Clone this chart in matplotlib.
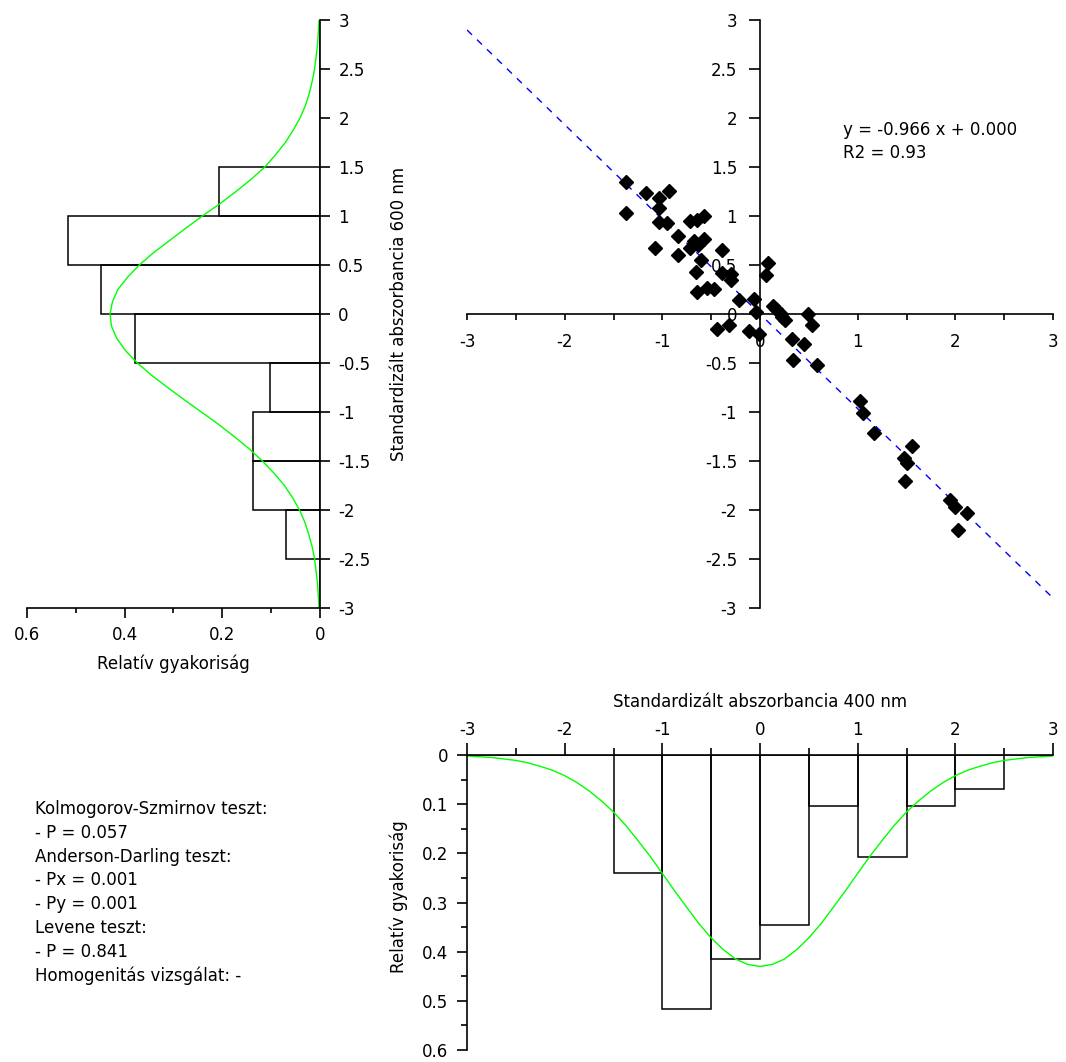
import numpy as np
import matplotlib.pyplot as plt
from matplotlib.ticker import MultipleLocator, FuncFormatter

plt.rcParams['font.family'] = ['DejaVu Sans']
plt.rcParams['font.size'] = 12
plt.rcParams['axes.unicode_minus'] = False

# histogram bins (standardised absorbance) and relative frequencies
bin_edges = [-3, -2.5, -2, -1.5, -1, -0.5, 0, 0.5, 1, 1.5, 2, 2.5, 3]
freq_400 = [0, 0, 0, 0.241, 0.517, 0.414, 0.345, 0.103, 0.207, 0.103, 0.069, 0]
freq_600 = [0, 0.069, 0.138, 0.138, 0.103, 0.379, 0.448, 0.517, 0.207, 0, 0, 0]

# fitted density curves
curve_pos = [-3, -2.875, -2.75, -2.625, -2.5, -2.375, -2.25, -2.125, -2, -1.875, -1.75, -1.625,
             -1.5, -1.375, -1.25, -1.125, -1, -0.875, -0.75, -0.625, -0.5, -0.375, -0.25, -0.125,
             0, 0.125, 0.25, 0.375, 0.5, 0.625, 0.75, 0.875, 1, 1.125, 1.25, 1.375,
             1.5, 1.625, 1.75, 1.875, 2, 2.125, 2.25, 2.375, 2.5, 2.625, 2.75, 2.875, 3]
curve_400 = [0.002, 0.0035, 0.005, 0.008, 0.011, 0.016, 0.023, 0.031, 0.042, 0.056, 0.073, 0.093,
             0.116, 0.143, 0.174, 0.206, 0.241, 0.276, 0.310, 0.343, 0.372, 0.396, 0.415, 0.426,
             0.430, 0.426, 0.415, 0.396, 0.372, 0.343, 0.310, 0.276, 0.241, 0.206, 0.174, 0.143,
             0.116, 0.093, 0.073, 0.056, 0.042, 0.031, 0.023, 0.016, 0.011, 0.008, 0.005, 0.0035, 0.002]
curve_600 = [0.002, 0.0035, 0.005, 0.008, 0.011, 0.016, 0.023, 0.031, 0.042, 0.056, 0.073, 0.094,
             0.118, 0.145, 0.176, 0.208, 0.243, 0.278, 0.312, 0.345, 0.374, 0.398, 0.416, 0.427,
             0.430, 0.425, 0.414, 0.394, 0.370, 0.341, 0.308, 0.275, 0.241, 0.205, 0.172, 0.141,
             0.113, 0.091, 0.071, 0.055, 0.041, 0.030, 0.022, 0.016, 0.011, 0.008, 0.005, 0.0035, 0.002]

# scatter: standardised absorbance 400 nm vs 600 nm
x400 = [-1.37, -1.37, -1.17, -1.03, -0.93, -1.03, -1.03, -0.95, -1.07, -0.84,
        -0.72, -0.64, -0.57, -0.84, -0.57, -0.68, -0.72, -0.63, -0.60, -0.66,
        -0.39, -0.39, -0.30, -0.30, -0.64, -0.54, -0.47, -0.21, -0.06, -0.04,
        -0.44, -0.32, -0.11, -0.01, 0.08, 0.06, 0.16, 0.21, 0.26, 0.23,
        0.49, 0.53, 0.33, 0.45, 0.34, 0.58, 0.13,
        1.02, 1.05, 1.17, 1.56, 1.47, 1.50, 1.48, 1.95, 2.00, 2.12, 2.03]
y600 = [1.35, 1.03, 1.23, 1.18, 1.26, 1.08, 0.94, 0.93, 0.67, 0.80,
        0.95, 0.96, 1.00, 0.60, 0.77, 0.74, 0.67, 0.70, 0.55, 0.43,
        0.65, 0.42, 0.35, 0.41, 0.22, 0.27, 0.26, 0.14, 0.15, 0.02,
        -0.15, -0.11, -0.17, -0.20, 0.52, 0.40, 0.05, 0.00, -0.06, -0.03,
        0.00, -0.11, -0.25, -0.31, -0.47, -0.52, 0.08,
        -0.89, -1.01, -1.21, -1.35, -1.47, -1.52, -1.70, -1.90, -1.97, -2.03, -2.20]
slope, intercept, r2 = -0.966, 0.000, 0.93

stats_lines = ['Kolmogorov-Szmirnov teszt:', '- P = 0.057', 'Anderson-Darling teszt:',
               '- Px = 0.001', '- Py = 0.001', 'Levene teszt:', '- P = 0.841',
               'Homogenitás vizsgálat: -']

fmt = FuncFormatter(lambda v, p: '%g' % round(v, 3))
W, H = 1066, 1062
fig = plt.figure(figsize=(W / 100, H / 100), dpi=100)


def box(l, t, r, b):
    return [l / W, 1 - b / H, (r - l) / W, (b - t) / H]


# ---- left histogram (600 nm) ----
axl = fig.add_axes(box(27, 20, 320, 608))
axl.barh(bin_edges[:-1], freq_600, height=0.5, align='edge', fill=False,
         edgecolor='black', linewidth=1.1)
axl.plot(curve_600, curve_pos, color='#00ff00', lw=1)
axl.set_xlim(0.6, 0)
axl.set_ylim(-3, 3)
axl.spines[['top', 'left']].set_visible(False)
axl.yaxis.tick_right()
axl.yaxis.set_major_locator(MultipleLocator(0.5))
axl.xaxis.set_major_locator(MultipleLocator(0.2))
axl.xaxis.set_minor_locator(MultipleLocator(0.1))
axl.xaxis.set_major_formatter(fmt)
axl.yaxis.set_major_formatter(fmt)
axl.tick_params(axis='y', which='major', direction='out', length=7.2, width=1.2, pad=6)
axl.tick_params(axis='x', which='major', direction='out', length=7.2, width=1.2, pad=6)
axl.tick_params(axis='x', which='minor', direction='out', length=3.6, width=1.2)
axl.yaxis.set_label_position('right')
axl.set_ylabel('Standardizált abszorbancia 600 nm', rotation=90, va='center', ha='center')
axl.yaxis.set_label_coords((399 - 27) / 293, 0.5)
axl.set_xlabel('Relatív gyakoriság', va='center')
axl.xaxis.set_label_coords(0.5, (608 - 664) / 588)

# ---- scatter ----
axs = fig.add_axes(box(467, 20, 1053, 608))
line_x = np.array([-3, 3])
axs.plot(line_x, slope * line_x + intercept, color='#0000ff', lw=1, dashes=(5, 5))
axs.plot(x400, y600, 'D', color='black', markersize=7, linestyle='none')
axs.set_xlim(-3, 3)
axs.set_ylim(-3, 3)
axs.spines[['top', 'right']].set_visible(False)
axs.spines['left'].set_position(('data', 0))
axs.spines['bottom'].set_position(('data', 0))
axs.xaxis.set_major_locator(MultipleLocator(1))
axs.xaxis.set_minor_locator(MultipleLocator(0.5))
axs.yaxis.set_major_locator(MultipleLocator(0.5))
axs.xaxis.set_major_formatter(fmt)
axs.yaxis.set_major_formatter(fmt)
axs.tick_params(axis='x', which='both', direction='out', length=4.3, width=1.2, pad=9.5)
axs.tick_params(axis='y', which='major', direction='out', length=8, width=1.2, pad=8.5)
axs.text(0.85, 1.88, 'y = %.3f x + %.3f' % (slope, intercept), va='center', ha='left')
axs.text(0.85, 1.64, 'R2 = %.2f' % r2, va='center', ha='left')

# ---- bottom histogram (400 nm) ----
axb = fig.add_axes(box(467, 755, 1053, 1050))
axb.bar(bin_edges[:-1], freq_400, width=0.5, align='edge', fill=False,
        edgecolor='black', linewidth=1.1)
axb.plot(curve_pos, curve_400, color='#00ff00', lw=1)
axb.set_xlim(-3, 3)
axb.set_ylim(0.6, 0)
axb.spines[['bottom', 'right']].set_visible(False)
axb.xaxis.tick_top()
axb.xaxis.set_major_locator(MultipleLocator(1))
axb.xaxis.set_minor_locator(MultipleLocator(0.5))
axb.yaxis.set_major_locator(MultipleLocator(0.1))
axb.yaxis.set_minor_locator(MultipleLocator(0.05))
axb.xaxis.set_major_formatter(fmt)
axb.yaxis.set_major_formatter(fmt)
axb.tick_params(axis='x', which='major', direction='out', length=8.6, width=1.2, pad=3)
axb.tick_params(axis='x', which='minor', direction='out', length=5, width=1.2)
axb.tick_params(axis='y', which='major', direction='out', length=7.2, width=1.2, pad=6.5)
axb.tick_params(axis='y', which='minor', direction='out', length=4.5, width=1.2)
axb.xaxis.set_label_position('top')
axb.set_xlabel('Standardizált abszorbancia 400 nm', va='center')
axb.xaxis.set_label_coords(0.5, 1 + (755 - 702) / 295)
axb.set_ylabel('Relatív gyakoriság', rotation=90, va='center', ha='center')
axb.yaxis.set_label_coords((399 - 467) / 586, 0.52)

for ax in (axl, axs, axb):
    for sp in ax.spines.values():
        sp.set_linewidth(1.2)

# ---- statistics text ----
for i, line in enumerate(stats_lines):
    fig.text(35 / W, 1 - (809 + i * 23.8) / H, line, va='center', ha='left')

fig.savefig('out.png', dpi=100)
